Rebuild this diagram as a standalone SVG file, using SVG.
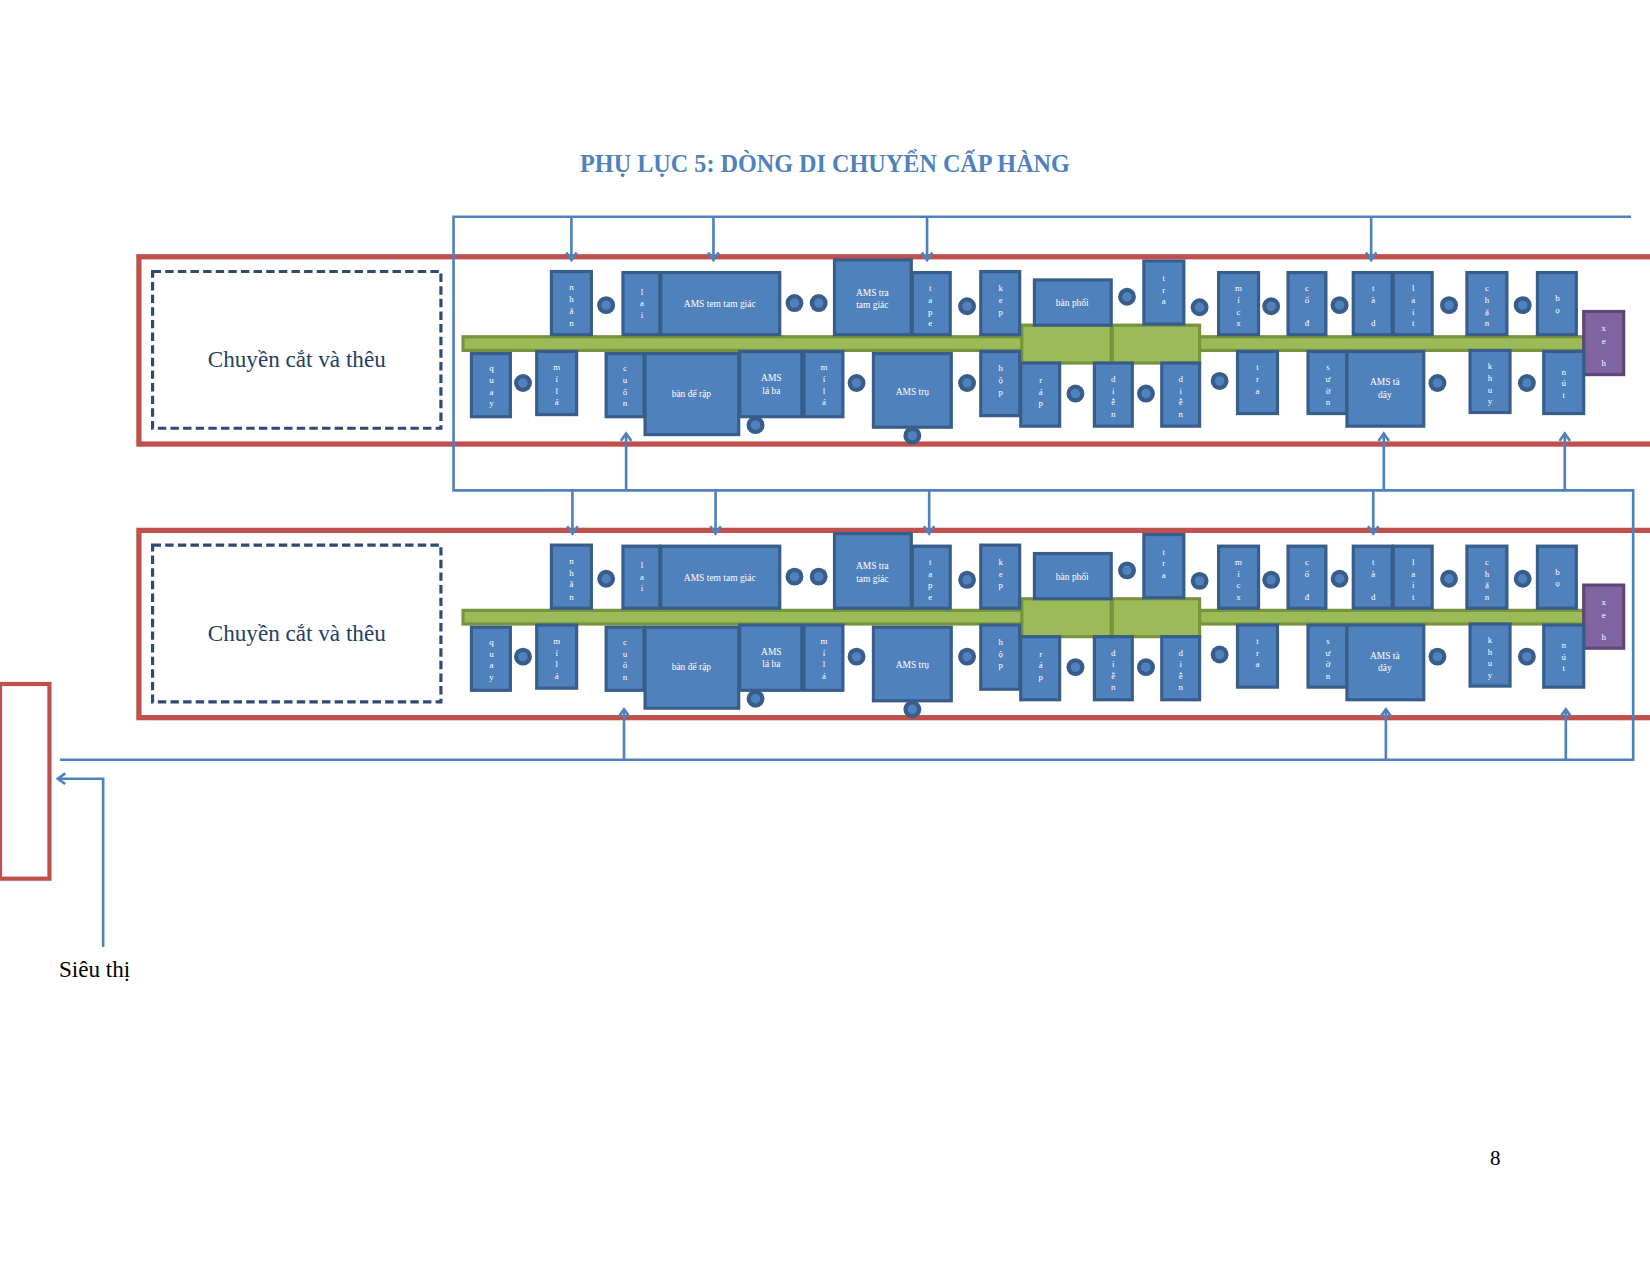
<svg xmlns="http://www.w3.org/2000/svg" width="1650" height="1275" viewBox="0 0 1650 1275">
<style>
.b{fill:#4F81BD;stroke:#385D8A;stroke-width:3}
.c{fill:#385D8A;stroke:#4F81BD;stroke-width:0}
.ci{fill:#4F81BD}
.g{fill:#9BBB59;stroke:#77933C;stroke-width:3}
.p{fill:#8064A2;stroke:#5C4776;stroke-width:3}
.t{font-family:"Liberation Serif","DejaVu Serif",serif;font-size:8.5px;fill:#fff;text-anchor:middle}
.t2{font-family:"Liberation Serif","DejaVu Serif",serif;font-size:9px;fill:#fff;text-anchor:middle}
.red{fill:none;stroke:#C0504D;stroke-width:5}
.dash{fill:none;stroke:#2E4A74;stroke-width:3;stroke-dasharray:8,4}
.lbl{font-family:"Liberation Serif","DejaVu Serif",serif;font-size:22px;fill:#243F60;text-anchor:middle}
.con{fill:none;stroke:#4F81BD;stroke-width:2.5}
</style>
<defs>
<marker id="ah" markerWidth="12" markerHeight="12" refX="9" refY="6" orient="auto" markerUnits="userSpaceOnUse">
<path d="M2,1 L9,6 L2,11" fill="none" stroke="#4F81BD" stroke-width="2.5"/>
</marker>
<g id="dot"><circle r="8.5" fill="#385D8A"/><circle r="4.5" fill="#4F81BD"/></g>
</defs>
<g transform="scale(1.0523)">
<text x="784" y="163" font-family="Liberation Serif,serif" font-weight="bold" font-size="23" fill="#4F81BD" text-anchor="middle">PHỤ LỤC 5: DÒNG DI CHUYỂN CẤP HÀNG</text>

<g id="row1">
<rect id="frame1" class="red" x="132" y="244" width="1480" height="178"/>
<g id="chuyen1"><rect class="dash" x="145" y="258" width="274" height="149"/><text class="lbl" x="282" y="349">Chuyền cắt và thêu</text></g>
<g id="line1"><rect class="g" x="440" y="320" width="1065" height="13"/><rect class="g" x="971" y="309" width="85" height="36"/><rect class="g" x="1057" y="309" width="83" height="36"/></g>
<g id="xe1"><rect class="p" x="1505" y="296" width="38" height="60"/><text class="t"><tspan x="1524" y="315">x</tspan><tspan x="1524" y="327">e</tspan><tspan x="1524" y="348">h</tspan></text></g>
<g id="r1-nhan"><rect class="b" x="524" y="258" width="38" height="60"/><text class="t"><tspan x="543" y="276">n</tspan><tspan x="543" y="287">h</tspan><tspan x="543" y="298">ã</tspan><tspan x="543" y="310">n</tspan></text></g>
<g id="r1-lai"><rect class="b" x="592" y="259" width="35" height="59"/><text class="t"><tspan x="610" y="280">l</tspan><tspan x="610" y="291">a</tspan><tspan x="610" y="302">i</tspan></text></g>
<g id="r1-amstem"><rect class="b" x="628" y="259" width="113" height="59"/><text class="t2" x="684" y="292">AMS tem tam giác</text></g>
<g id="r1-amstra"><rect class="b" x="793" y="247" width="73" height="71"/><text class="t2"><tspan x="829" y="281">AMS tra</tspan><tspan x="829" y="293">tam giác</tspan></text></g>
<g id="r1-tape"><rect class="b" x="867" y="259" width="36" height="59"/><text class="t"><tspan x="884" y="277">t</tspan><tspan x="884" y="288">a</tspan><tspan x="884" y="299">p</tspan><tspan x="884" y="310">e</tspan></text></g>
<g id="r1-kep"><rect class="b" x="932" y="258" width="37" height="60"/><text class="t"><tspan x="951" y="277">k</tspan><tspan x="951" y="288">e</tspan><tspan x="951" y="299">p</tspan></text></g>
<g id="r1-banphoi"><rect class="b" x="983" y="266" width="73" height="43"/><text class="t2" x="1019" y="291">bàn phối</text></g>
<g id="r1-tra"><rect class="b" x="1087" y="248" width="38" height="60"/><text class="t"><tspan x="1106" y="267">t</tspan><tspan x="1106" y="278">r</tspan><tspan x="1106" y="289">a</tspan></text></g>
<g id="r1-mic"><rect class="b" x="1158" y="259" width="38" height="59"/><text class="t"><tspan x="1177" y="277">m</tspan><tspan x="1177" y="288">í</tspan><tspan x="1177" y="299">c</tspan><tspan x="1177" y="310">x</tspan></text></g>
<g id="r1-co"><rect class="b" x="1224" y="259" width="36" height="59"/><text class="t"><tspan x="1242" y="277">c</tspan><tspan x="1242" y="288">ổ</tspan><tspan x="1242" y="310">đ</tspan></text></g>
<g id="r1-tad"><rect class="b" x="1286" y="259" width="37" height="59"/><text class="t"><tspan x="1305" y="277">t</tspan><tspan x="1305" y="288">à</tspan><tspan x="1305" y="310">d</tspan></text></g>
<g id="r1-lait"><rect class="b" x="1324" y="259" width="37" height="59"/><text class="t"><tspan x="1343" y="277">l</tspan><tspan x="1343" y="288">a</tspan><tspan x="1343" y="299">i</tspan><tspan x="1343" y="310">t</tspan></text></g>
<g id="r1-chan"><rect class="b" x="1394" y="259" width="38" height="59"/><text class="t"><tspan x="1413" y="277">c</tspan><tspan x="1413" y="288">h</tspan><tspan x="1413" y="299">ặ</tspan><tspan x="1413" y="310">n</tspan></text></g>
<g id="r1-bo"><rect class="b" x="1461" y="259" width="37" height="59"/><text class="t"><tspan x="1480" y="286">b</tspan><tspan x="1480" y="297">ọ</tspan></text></g>
<g id="r1-quay"><rect class="b" x="448" y="336" width="37" height="60"/><text class="t"><tspan x="467" y="353">q</tspan><tspan x="467" y="364">u</tspan><tspan x="467" y="375">a</tspan><tspan x="467" y="386">y</tspan></text></g>
<g id="r1-mila"><rect class="b" x="510" y="334" width="38" height="60"/><text class="t"><tspan x="529" y="352">m</tspan><tspan x="529" y="363">í</tspan><tspan x="529" y="374">l</tspan><tspan x="529" y="385">á</tspan></text></g>
<g id="r1-cuon"><rect class="b" x="576" y="336" width="36" height="60"/><text class="t"><tspan x="594" y="353">c</tspan><tspan x="594" y="364">u</tspan><tspan x="594" y="375">ố</tspan><tspan x="594" y="386">n</tspan></text></g>
<g id="r1-bande"><rect class="b" x="613" y="336" width="89" height="77"/><text class="t2" x="657" y="377">bàn để rập</text></g>
<g id="r1-amslaba"><rect class="b" x="703" y="334" width="59" height="62"/><text class="t2"><tspan x="733" y="362">AMS</tspan><tspan x="733" y="374">lá ba</tspan></text></g>
<g id="r1-mila2"><rect class="b" x="764" y="334" width="37" height="62"/><text class="t"><tspan x="783" y="352">m</tspan><tspan x="783" y="363">í</tspan><tspan x="783" y="374">l</tspan><tspan x="783" y="385">á</tspan></text></g>
<g id="r1-amstru"><rect class="b" x="830" y="336" width="74" height="70"/><text class="t2" x="867" y="375">AMS trụ</text></g>
<g id="r1-hop"><rect class="b" x="932" y="334" width="37" height="61"/><text class="t"><tspan x="951" y="353">h</tspan><tspan x="951" y="364">ộ</tspan><tspan x="951" y="375">p</tspan></text></g>
<g id="r1-rap"><rect class="b" x="970" y="345" width="37" height="60"/><text class="t"><tspan x="989" y="364">r</tspan><tspan x="989" y="375">á</tspan><tspan x="989" y="386">p</tspan></text></g>
<g id="r1-dien1"><rect class="b" x="1040" y="345" width="36" height="60"/><text class="t"><tspan x="1058" y="363">d</tspan><tspan x="1058" y="374">i</tspan><tspan x="1058" y="385">ễ</tspan><tspan x="1058" y="396">n</tspan></text></g>
<g id="r1-dien2"><rect class="b" x="1104" y="345" width="36" height="60"/><text class="t"><tspan x="1122" y="363">d</tspan><tspan x="1122" y="374">i</tspan><tspan x="1122" y="385">ễ</tspan><tspan x="1122" y="396">n</tspan></text></g>
<g id="r1-tra2"><rect class="b" x="1176" y="334" width="38" height="59"/><text class="t"><tspan x="1195" y="352">t</tspan><tspan x="1195" y="363">r</tspan><tspan x="1195" y="374">a</tspan></text></g>
<g id="r1-suon"><rect class="b" x="1243" y="334" width="37" height="59"/><text class="t"><tspan x="1262" y="352">s</tspan><tspan x="1262" y="363">ư</tspan><tspan x="1262" y="374">ờ</tspan><tspan x="1262" y="385">n</tspan></text></g>
<g id="r1-amstaday"><rect class="b" x="1280" y="334" width="73" height="71"/><text class="t2"><tspan x="1316" y="366">AMS tà</tspan><tspan x="1316" y="378">dây</tspan></text></g>
<g id="r1-khuy"><rect class="b" x="1397" y="333" width="38" height="59"/><text class="t"><tspan x="1416" y="351">k</tspan><tspan x="1416" y="362">h</tspan><tspan x="1416" y="373">u</tspan><tspan x="1416" y="384">y</tspan></text></g>
<g id="r1-nut"><rect class="b" x="1467" y="334" width="38" height="59"/><text class="t"><tspan x="1486" y="356">n</tspan><tspan x="1486" y="367">ú</tspan><tspan x="1486" y="378">t</tspan></text></g>
<g id="r1-dots">
<use href="#dot" x="576" y="290"/><use href="#dot" x="755" y="288"/><use href="#dot" x="778" y="288"/><use href="#dot" x="919" y="291"/><use href="#dot" x="1071" y="282"/><use href="#dot" x="1140" y="292"/><use href="#dot" x="1208" y="291"/><use href="#dot" x="1273" y="290"/><use href="#dot" x="1377" y="290"/><use href="#dot" x="1447" y="290"/>
<use href="#dot" x="497" y="364"/><use href="#dot" x="718" y="404"/><use href="#dot" x="814" y="364"/><use href="#dot" x="867" y="414"/><use href="#dot" x="919" y="364"/><use href="#dot" x="1022" y="374"/><use href="#dot" x="1089" y="374"/><use href="#dot" x="1159" y="362"/><use href="#dot" x="1366" y="364"/><use href="#dot" x="1451" y="364"/>
</g>
</g>

<g id="row2" transform="translate(0,260)">
<rect id="frame2" class="red" x="132" y="244" width="1480" height="178"/>
<g id="chuyen2"><rect class="dash" x="145" y="258" width="274" height="149"/><text class="lbl" x="282" y="349">Chuyền cắt và thêu</text></g>
<g id="line2"><rect class="g" x="440" y="320" width="1065" height="13"/><rect class="g" x="971" y="309" width="85" height="36"/><rect class="g" x="1057" y="309" width="83" height="36"/></g>
<g id="xe2"><rect class="p" x="1505" y="296" width="38" height="60"/><text class="t"><tspan x="1524" y="315">x</tspan><tspan x="1524" y="327">e</tspan><tspan x="1524" y="348">h</tspan></text></g>
<g id="r2-nhan"><rect class="b" x="524" y="258" width="38" height="60"/><text class="t"><tspan x="543" y="276">n</tspan><tspan x="543" y="287">h</tspan><tspan x="543" y="298">ã</tspan><tspan x="543" y="310">n</tspan></text></g>
<g id="r2-lai"><rect class="b" x="592" y="259" width="35" height="59"/><text class="t"><tspan x="610" y="280">l</tspan><tspan x="610" y="291">a</tspan><tspan x="610" y="302">i</tspan></text></g>
<g id="r2-amstem"><rect class="b" x="628" y="259" width="113" height="59"/><text class="t2" x="684" y="292">AMS tem tam giác</text></g>
<g id="r2-amstra"><rect class="b" x="793" y="247" width="73" height="71"/><text class="t2"><tspan x="829" y="281">AMS tra</tspan><tspan x="829" y="293">tam giác</tspan></text></g>
<g id="r2-tape"><rect class="b" x="867" y="259" width="36" height="59"/><text class="t"><tspan x="884" y="277">t</tspan><tspan x="884" y="288">a</tspan><tspan x="884" y="299">p</tspan><tspan x="884" y="310">e</tspan></text></g>
<g id="r2-kep"><rect class="b" x="932" y="258" width="37" height="60"/><text class="t"><tspan x="951" y="277">k</tspan><tspan x="951" y="288">e</tspan><tspan x="951" y="299">p</tspan></text></g>
<g id="r2-banphoi"><rect class="b" x="983" y="266" width="73" height="43"/><text class="t2" x="1019" y="291">bàn phối</text></g>
<g id="r2-tra"><rect class="b" x="1087" y="248" width="38" height="60"/><text class="t"><tspan x="1106" y="267">t</tspan><tspan x="1106" y="278">r</tspan><tspan x="1106" y="289">a</tspan></text></g>
<g id="r2-mic"><rect class="b" x="1158" y="259" width="38" height="59"/><text class="t"><tspan x="1177" y="277">m</tspan><tspan x="1177" y="288">í</tspan><tspan x="1177" y="299">c</tspan><tspan x="1177" y="310">x</tspan></text></g>
<g id="r2-co"><rect class="b" x="1224" y="259" width="36" height="59"/><text class="t"><tspan x="1242" y="277">c</tspan><tspan x="1242" y="288">ổ</tspan><tspan x="1242" y="310">đ</tspan></text></g>
<g id="r2-tad"><rect class="b" x="1286" y="259" width="37" height="59"/><text class="t"><tspan x="1305" y="277">t</tspan><tspan x="1305" y="288">à</tspan><tspan x="1305" y="310">d</tspan></text></g>
<g id="r2-lait"><rect class="b" x="1324" y="259" width="37" height="59"/><text class="t"><tspan x="1343" y="277">l</tspan><tspan x="1343" y="288">a</tspan><tspan x="1343" y="299">i</tspan><tspan x="1343" y="310">t</tspan></text></g>
<g id="r2-chan"><rect class="b" x="1394" y="259" width="38" height="59"/><text class="t"><tspan x="1413" y="277">c</tspan><tspan x="1413" y="288">h</tspan><tspan x="1413" y="299">ặ</tspan><tspan x="1413" y="310">n</tspan></text></g>
<g id="r2-bo"><rect class="b" x="1461" y="259" width="37" height="59"/><text class="t"><tspan x="1480" y="286">b</tspan><tspan x="1480" y="297">ọ</tspan></text></g>
<g id="r2-quay"><rect class="b" x="448" y="336" width="37" height="60"/><text class="t"><tspan x="467" y="353">q</tspan><tspan x="467" y="364">u</tspan><tspan x="467" y="375">a</tspan><tspan x="467" y="386">y</tspan></text></g>
<g id="r2-mila"><rect class="b" x="510" y="334" width="38" height="60"/><text class="t"><tspan x="529" y="352">m</tspan><tspan x="529" y="363">í</tspan><tspan x="529" y="374">l</tspan><tspan x="529" y="385">á</tspan></text></g>
<g id="r2-cuon"><rect class="b" x="576" y="336" width="36" height="60"/><text class="t"><tspan x="594" y="353">c</tspan><tspan x="594" y="364">u</tspan><tspan x="594" y="375">ố</tspan><tspan x="594" y="386">n</tspan></text></g>
<g id="r2-bande"><rect class="b" x="613" y="336" width="89" height="77"/><text class="t2" x="657" y="377">bàn để rập</text></g>
<g id="r2-amslaba"><rect class="b" x="703" y="334" width="59" height="62"/><text class="t2"><tspan x="733" y="362">AMS</tspan><tspan x="733" y="374">lá ba</tspan></text></g>
<g id="r2-mila2"><rect class="b" x="764" y="334" width="37" height="62"/><text class="t"><tspan x="783" y="352">m</tspan><tspan x="783" y="363">í</tspan><tspan x="783" y="374">l</tspan><tspan x="783" y="385">á</tspan></text></g>
<g id="r2-amstru"><rect class="b" x="830" y="336" width="74" height="70"/><text class="t2" x="867" y="375">AMS trụ</text></g>
<g id="r2-hop"><rect class="b" x="932" y="334" width="37" height="61"/><text class="t"><tspan x="951" y="353">h</tspan><tspan x="951" y="364">ộ</tspan><tspan x="951" y="375">p</tspan></text></g>
<g id="r2-rap"><rect class="b" x="970" y="345" width="37" height="60"/><text class="t"><tspan x="989" y="364">r</tspan><tspan x="989" y="375">á</tspan><tspan x="989" y="386">p</tspan></text></g>
<g id="r2-dien1"><rect class="b" x="1040" y="345" width="36" height="60"/><text class="t"><tspan x="1058" y="363">d</tspan><tspan x="1058" y="374">i</tspan><tspan x="1058" y="385">ễ</tspan><tspan x="1058" y="396">n</tspan></text></g>
<g id="r2-dien2"><rect class="b" x="1104" y="345" width="36" height="60"/><text class="t"><tspan x="1122" y="363">d</tspan><tspan x="1122" y="374">i</tspan><tspan x="1122" y="385">ễ</tspan><tspan x="1122" y="396">n</tspan></text></g>
<g id="r2-tra2"><rect class="b" x="1176" y="334" width="38" height="59"/><text class="t"><tspan x="1195" y="352">t</tspan><tspan x="1195" y="363">r</tspan><tspan x="1195" y="374">a</tspan></text></g>
<g id="r2-suon"><rect class="b" x="1243" y="334" width="37" height="59"/><text class="t"><tspan x="1262" y="352">s</tspan><tspan x="1262" y="363">ư</tspan><tspan x="1262" y="374">ờ</tspan><tspan x="1262" y="385">n</tspan></text></g>
<g id="r2-amstaday"><rect class="b" x="1280" y="334" width="73" height="71"/><text class="t2"><tspan x="1316" y="366">AMS tà</tspan><tspan x="1316" y="378">dây</tspan></text></g>
<g id="r2-khuy"><rect class="b" x="1397" y="333" width="38" height="59"/><text class="t"><tspan x="1416" y="351">k</tspan><tspan x="1416" y="362">h</tspan><tspan x="1416" y="373">u</tspan><tspan x="1416" y="384">y</tspan></text></g>
<g id="r2-nut"><rect class="b" x="1467" y="334" width="38" height="59"/><text class="t"><tspan x="1486" y="356">n</tspan><tspan x="1486" y="367">ú</tspan><tspan x="1486" y="378">t</tspan></text></g>
<g id="r2-dots">
<use href="#dot" x="576" y="290"/><use href="#dot" x="755" y="288"/><use href="#dot" x="778" y="288"/><use href="#dot" x="919" y="291"/><use href="#dot" x="1071" y="282"/><use href="#dot" x="1140" y="292"/><use href="#dot" x="1208" y="291"/><use href="#dot" x="1273" y="290"/><use href="#dot" x="1377" y="290"/><use href="#dot" x="1447" y="290"/>
<use href="#dot" x="497" y="364"/><use href="#dot" x="718" y="404"/><use href="#dot" x="814" y="364"/><use href="#dot" x="867" y="414"/><use href="#dot" x="919" y="364"/><use href="#dot" x="1022" y="374"/><use href="#dot" x="1089" y="374"/><use href="#dot" x="1159" y="362"/><use href="#dot" x="1366" y="364"/><use href="#dot" x="1451" y="364"/>
</g>
</g>

<g id="sieuthi"><rect x="0" y="650" width="47" height="185" fill="none" stroke="#C0504D" stroke-width="4"/><text x="56" y="928" font-family="Liberation Serif,serif" font-size="22" fill="#000">Siêu thị</text></g>
<text id="page" x="1421" y="1107" font-family="Liberation Serif,serif" font-size="20" fill="#000" text-anchor="middle">8</text>

<g id="connectors" class="con">
<path class="con" d="M1550,206 H431 V466 H1552 V722 H57"/>
<path class="con" d="M543,206 V247" marker-end="url(#ah)"/>
<path class="con" d="M678,206 V247" marker-end="url(#ah)"/>
<path class="con" d="M881,206 V247" marker-end="url(#ah)"/>
<path class="con" d="M1303,206 V247" marker-end="url(#ah)"/>
<path class="con" d="M595,466 V412" marker-end="url(#ah)"/>
<path class="con" d="M1315,466 V412" marker-end="url(#ah)"/>
<path class="con" d="M1487,466 V412" marker-end="url(#ah)"/>
<path class="con" d="M544,466 V507" marker-end="url(#ah)"/>
<path class="con" d="M680,466 V507" marker-end="url(#ah)"/>
<path class="con" d="M883,466 V507" marker-end="url(#ah)"/>
<path class="con" d="M1305,466 V507" marker-end="url(#ah)"/>
<path class="con" d="M593,722 V674" marker-end="url(#ah)"/>
<path class="con" d="M1317,722 V674" marker-end="url(#ah)"/>
<path class="con" d="M1488,722 V674" marker-end="url(#ah)"/>
<path class="con" d="M98,900 V740 H55" marker-end="url(#ah)"/>
</g>
</g>
</svg>
